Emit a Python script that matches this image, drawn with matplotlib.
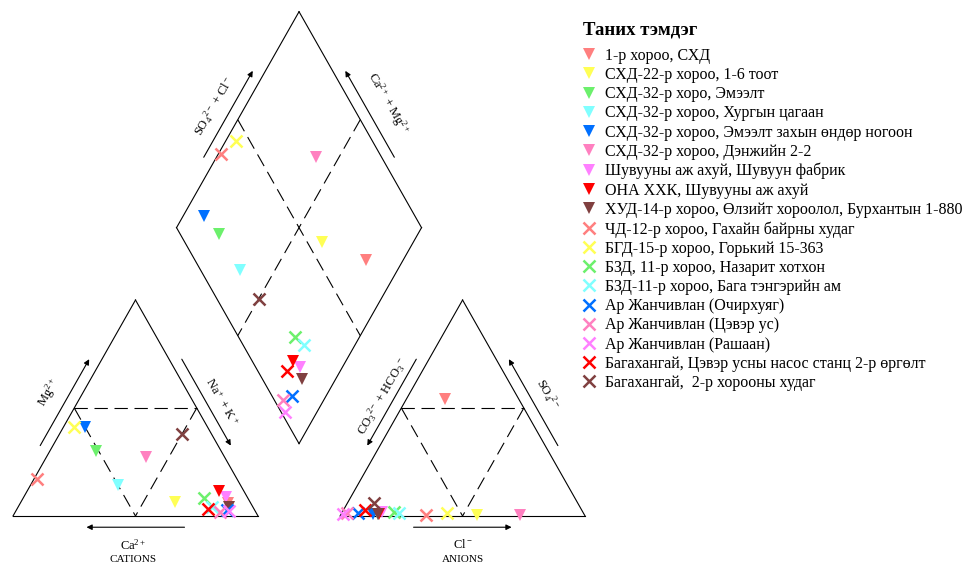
import numpy as np
import matplotlib.pyplot as plt

plt.rcParams['font.family'] = ['Liberation Serif', 'DejaVu Serif']
plt.rcParams['mathtext.fontset'] = 'custom'
plt.rcParams['mathtext.rm'] = 'Liberation Serif'
plt.rcParams['mathtext.it'] = 'Liberation Serif:italic'
plt.rcParams['mathtext.bf'] = 'Liberation Serif:bold'

# sample names (legend order)
labels = [
    '1-р хороо, СХД',
    'СХД-22-р хороо, 1-6 тоот',
    'СХД-32-р хоро, Эмээлт',
    'СХД-32-р хороо, Хургын цагаан',
    'СХД-32-р хороо, Эмээлт захын өндөр ногоон',
    'СХД-32-р хороо, Дэнжийн 2-2',
    'Шувууны аж ахуй, Шувуун фабрик',
    'ОНА ХХК, Шувууны аж ахуй',
    'ХУД-14-р хороо, Өлзийт хороолол, Бурхантын 1-880',
    'ЧД-12-р хороо, Гахайн байрны худаг',
    'БГД-15-р хороо, Горький 15-363',
    'БЗД, 11-р хороо, Назарит хотхон',
    'БЗД-11-р хороо, Бага тэнгэрийн ам',
    'Ар Жанчивлан (Очирхуяг)',
    'Ар Жанчивлан (Цэвэр ус)',
    'Ар Жанчивлан (Рашаан)',
    'Багахангай, Цэвэр усны насос станц 2-р өргөлт',
    'Багахангай,  2-р хорооны худаг',
]
palette = ['#ff7f7f', '#ffff55', '#6cf06c', '#80ffff', '#0070ff',
           '#ff80c0', '#ff80ff', '#ff0000', '#804040']
colors = palette + palette
markers = ['v'] * 9 + ['x'] * 9

# cations, % meq
ca = [9.3, 30.7, 51.0, 50.0, 50.0, 32.0, 8.7, 10.0, 9.7,
      81.7, 54.5, 18.0, 16.6, 11.1, 14.6, 10.5, 18.8, 12.0]
mg = [6.0, 6.5, 30.0, 14.3, 41.2, 27.3, 8.8, 11.6, 4.0,
      17.1, 41.2, 8.3, 4.0, 3.0, 2.0, 2.5, 3.2, 38.0]
# anions, % meq
so4 = [54.0, 0.5, 1.0, 1.0, 1.0, 0.5, 2.0, 1.0, 1.0,
       0.5, 1.5, 2.0, 1.5, 1.5, 1.5, 1.0, 3.0, 6.0]
cl = [15.9, 55.5, 15.0, 15.0, 13.0, 73.0, 16.0, 15.5, 15.0,
      35.0, 43.0, 21.0, 23.5, 6.5, 2.0, 0.5, 8.8, 11.0]

G = 0.335
H = np.sqrt(3) / 2

fig = plt.figure(figsize=(9.7, 5.67), dpi=100)
ax = fig.add_axes([0, 0, 1, 1])
ax.set_xlim(-13 / 245, 957 / 245)
ax.set_ylim(-51 / 249.4, 516 / 249.4)
ax.axis('off')

lw = 0.8
def seg(p, q, dashed=False):
    ax.plot([p[0], q[0]], [p[1], q[1]], color='k', lw=lw,
            dashes=(12, 6) if dashed else (None, None), zorder=1)

def mid(p, q):
    return (np.asarray(p) + np.asarray(q)) / 2

# outlines
A, B, C = np.array([0, 0]), np.array([1, 0]), np.array([0.5, H])
A2, B2, C2 = A + [1 + G, 0], B + [1 + G, 0], C + [1 + G, 0]
DL = np.array([0.5 + G / 2, (1 + G) * H])
DT = np.array([1 + G / 2, (2 + G) * H])
DR = np.array([1.5 + G / 2, (1 + G) * H])
DB = np.array([1 + G / 2, G * H])

for a, b, c in [(A, B, C), (A2, B2, C2)]:
    seg(a, b); seg(b, c); seg(c, a)
    seg(mid(a, c), mid(b, c), True)
    seg(mid(a, c), mid(a, b), True)
    seg(mid(b, c), mid(a, b), True)
seg(DL, DT); seg(DT, DR); seg(DR, DB); seg(DB, DL)
seg(mid(DL, DT), mid(DR, DB), True)
seg(mid(DT, DR), mid(DB, DL), True)

def edge_arrow(a, b, center, text=None, rot=0, off=0.045, loff=0.11,
               t0=0.3, t1=0.7, tl=0.5):
    a, b = np.asarray(a, float), np.asarray(b, float)
    d = b - a
    n = np.array([-d[1], d[0]]) / np.hypot(*d)
    if np.dot(n, mid(a, b) - center) < 0:
        n = -n
    ax.annotate('', xy=a + d * t1 + n * off, xytext=a + d * t0 + n * off,
                arrowprops=dict(arrowstyle='-|>', color='k', lw=0.8,
                                mutation_scale=8, shrinkA=0, shrinkB=0))
    if text:
        p = a + d * tl + n * loff
        ax.text(p[0], p[1], text, rotation=rot, ha='center', va='center',
                rotation_mode='anchor', fontsize=9)

cc = (A + B + C) / 3
edge_arrow(A, C, cc, r'Mg$^{2+}$', 60, loff=0.12)
edge_arrow(C, B, cc, r'Na$^+$ + K$^+$', -60, loff=0.10, tl=0.53)
edge_arrow(B, A, cc)
ax.text(0.49, -0.116, r'Ca$^{2+}$', ha='center', va='center', fontsize=9)
ax.text(0.49, -0.176, 'CATIONS', ha='center', va='center', fontsize=8)

ca2 = (A2 + B2 + C2) / 3
edge_arrow(C2, A2, ca2, r'CO$_3$$^{2-}$ + HCO$_3$$^-$', 60, loff=0.09)
edge_arrow(B2, C2, ca2, r'SO$_4$$^{2-}$', -60, loff=0.11)
edge_arrow(A2, B2, ca2)
ax.text(1.5 + G, -0.116, r'Cl$^-$', ha='center', va='center', fontsize=9)
ax.text(1.5 + G, -0.176, 'ANIONS', ha='center', va='center', fontsize=8)

cd = (DL + DR) / 2
edge_arrow(DL, DT, cd, r'SO$_4$$^{2-}$ + Cl$^-$', 60, loff=0.11)
edge_arrow(DR, DT, cd, r'Ca$^{2+}$ + Mg$^{2+}$', -60, loff=0.13)

# data points
ca_f = np.array(ca) / 100
mg_f = np.array(mg) / 100
nak_f = 1 - ca_f - mg_f
so4_f = np.array(so4) / 100
cl_f = np.array(cl) / 100

cx = nak_f + mg_f / 2
cy = mg_f * H
axn = 1 + G + cl_f + so4_f / 2
ayn = so4_f * H
p = ca_f + mg_f
q = so4_f + cl_f
dx = 1 + G / 2 + (q - p) / 2
dy = G * H + (p + q) * H

for i in range(len(labels)):
    xs = [cx[i], axn[i], dx[i]]
    ys = [cy[i], ayn[i], dy[i]]
    if markers[i] == 'v':
        ax.plot(xs, ys, ls='none', marker='v', ms=9, mew=0,
                color=colors[i], label=labels[i], zorder=3)
    else:
        ax.plot(xs, ys, ls='none', marker='x', ms=9, mew=1.8,
                color=colors[i], label=labels[i], zorder=4)

leg = ax.legend(loc='upper left', bbox_to_anchor=(583 / 970, 1 - 22 / 567),
                bbox_transform=fig.transFigure, frameon=False, fontsize=11.5,
                title='Таних тэмдэг',
                title_fontproperties={'weight': 'bold', 'size': 13.5},
                alignment='left', handlelength=0.8, handletextpad=0.6,
                labelspacing=0.2, borderpad=0, borderaxespad=0, numpoints=1)
leg._legend_box.sep = 6.3  # a bit more room under the title

fig.savefig('out.png', dpi=100)
